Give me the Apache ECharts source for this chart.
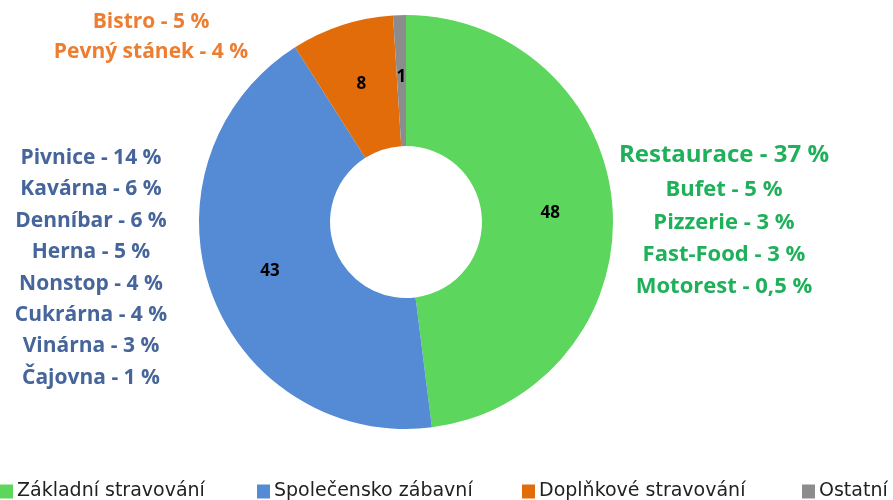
<!DOCTYPE html>
<html>
<head>
<meta charset="utf-8">
<script src="https://cdn.jsdelivr.net/npm/echarts@6/dist/echarts.min.js"></script>
<style>
  html, body { margin: 0; padding: 0; background: #fff; }
  #chart { width: 893px; height: 500px; }
</style>
</head>
<body>
<div id="chart"></div>
<script>
const categories = ['Základní stravování', 'Společensko zábavní', 'Doplňkové stravování', 'Ostatní'];
const values = [48, 43, 8, 1];
const colors = ['#5cd65c', '#558ad5', '#e36c0a', '#8c8c8c'];

// popisky podkategorií
const zakladni = ['Restaurace - 37 %', 'Bufet - 5 %', 'Pizzerie - 3 %', 'Fast-Food - 3 %', 'Motorest - 0,5 %'];
const spolecenske = ['Pivnice - 14 %', 'Kavárna - 6 %', 'Denníbar - 6 %', 'Herna - 5 %', 'Nonstop - 4 %', 'Cukrárna - 4 %', 'Vinárna - 3 %', 'Čajovna - 1 %'];
const doplnkove = ['Bistro - 5 %', 'Pevný stánek - 4 %'];

const font = '"Open Sans", Lato, sans-serif';
const legendLeft = [0, 257, 522, 802];

function textBlock(lines, x, yAt, color, sizes) {
  return lines.map((t, i) => ({
    type: 'text',
    x: x,
    y: yAt(i),
    style: {
      text: t,
      fill: color,
      font: `bold ${sizes ? sizes[i] : 21}px ${font}`,
      textAlign: 'center',
      textVerticalAlign: 'middle'
    }
  }));
}

const chart = echarts.init(document.getElementById('chart'));
chart.setOption({
  animation: false,
  color: colors,
  // Excel-like legenda: každá položka zvlášť
  legend: categories.map((name, i) => ({
    bottom: -1,
    left: legendLeft[i],
    padding: 0,
    itemWidth: 13,
    itemHeight: 14,
    icon: 'rect',
    textStyle: { fontFamily: '"DejaVu Sans", sans-serif', fontSize: 19, color: '#222', padding: [0, 0, 0, -1] },
    data: [name]
  })),
  series: [
    {
      type: 'pie',
      center: [406, 222],
      radius: [76, 207],
      startAngle: 90,
      clockwise: true,
      label: {
        show: true,
        position: 'inside',
        formatter: '{c}',
        color: '#000',
        fontFamily: font,
        fontWeight: 'bold',
        fontSize: 17
      },
      labelLine: { show: false },
      data: categories.map((name, i) => ({ name, value: values[i] }))
    }
  ],
  graphic: [
    ...textBlock(zakladni, 724, i => (i === 0 ? 155 : 190 + (i - 1) * 32.3), '#1fb05a', [24, 22, 22, 22, 22]),
    ...textBlock(spolecenske, 91, i => 158 + i * 31.4, '#46659a'),
    ...textBlock(doplnkove, 151, i => 22 + i * 30, '#ed7d31')
  ]
});
</script>
</body>
</html>
